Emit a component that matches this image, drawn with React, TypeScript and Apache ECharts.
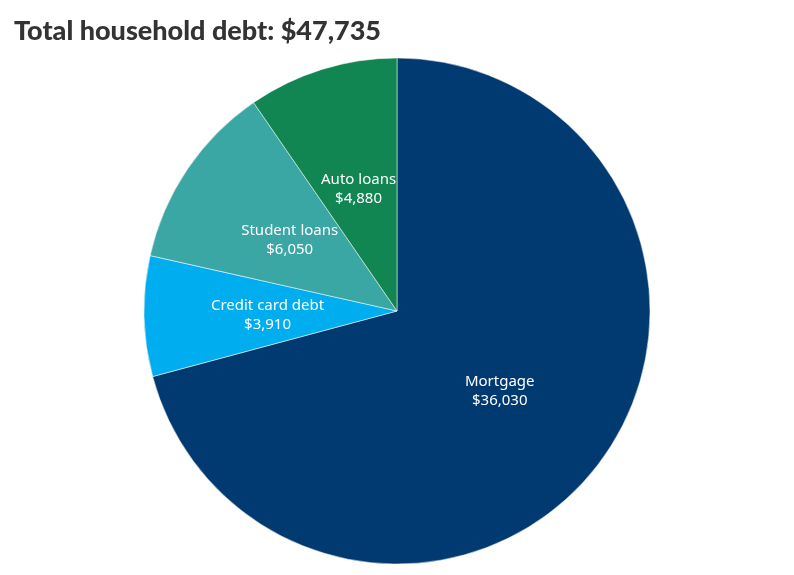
import * as echarts from 'echarts';
import { useEffect, useRef } from 'react';

const categories = ['Mortgage', 'Credit card debt', 'Student loans', 'Auto loans'];
const values = [36030, 3910, 6050, 4880];
const colors = ['#003a70', '#00adee', '#3ba7a4', '#118653'];
const totalLabel = '$47,735';

const App = () => {
  const chartRef = useRef<HTMLDivElement>(null);

  useEffect(() => {
    if (chartRef.current === null) return;
    const chart = echarts.init(chartRef.current, null, { renderer: 'svg' });

    chart.setOption({
      animation: false,
      title: {
        text: `Total household debt: ${totalLabel}`,
        left: 9,
        top: 11,
        textStyle: {
          fontFamily: 'Lato',
          fontWeight: 900,
          fontSize: 27,
          color: '#333333',
        },
      },
      series: [
        {
          type: 'pie',
          center: [397, 311],
          radius: 253,
          startAngle: 90,
          clockwise: true,
          itemStyle: { borderColor: '#ffffff', borderWidth: 0.5 },
          label: {
            position: 'inside',
            color: '#ffffff',
            fontFamily: 'Noto Sans',
            fontSize: 15,
            lineHeight: 19,
            formatter: (p: any) => `${p.name}\n$${p.value.toLocaleString('en-US')}`,
          },
          labelLine: { show: false },
          data: categories.map((name, i) => ({
            name,
            value: values[i],
            itemStyle: { color: colors[i] },
          })),
        },
      ],
    });

    return () => {
      chart.dispose();
    };
  }, []);

  return (
    <div
      ref={chartRef}
      style={{ position: 'fixed', left: 0, top: 0, width: 794, height: 575 }}
    ></div>
  );
};

export default App;
